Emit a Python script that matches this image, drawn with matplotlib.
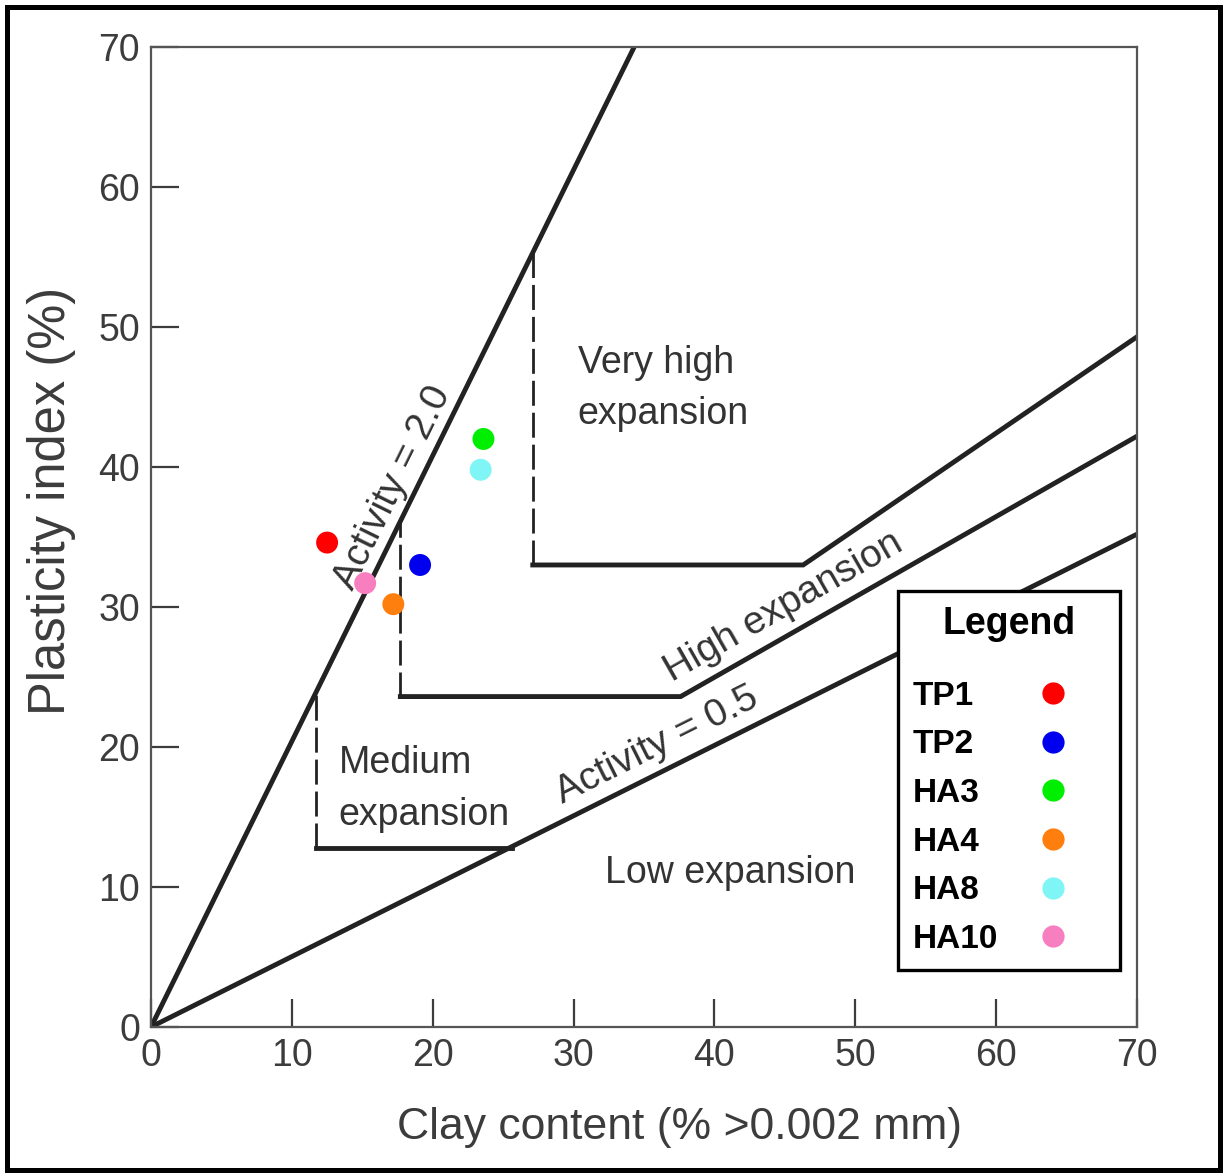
import numpy as np
import matplotlib
matplotlib.use("Agg")
import matplotlib.pyplot as plt
from matplotlib.lines import Line2D
from matplotlib.patches import Rectangle

plt.rcParams['font.family'] = ['Liberation Sans', 'DejaVu Sans']

# ---------------- data ----------------
sample_names = ["TP1", "TP2", "HA3", "HA4", "HA8", "HA10"]
clay_content = [12.5, 19.1, 23.6, 17.2, 23.4, 15.2]
plasticity_index = [34.6, 33.0, 42.0, 30.2, 39.8, 31.7]
sample_colors = ["#ff0000", "#0000ee", "#00ee00", "#ff7f0e", "#7ff5f5", "#f77fbf"]

# zone boundary lines (clay %, PI %)
activity_2_x = [0, 34.3]
activity_2_y = [0, 70]
activity_05_x = [0, 70]
activity_05_y = [0, 35.2]
very_high_x = [27.1, 46.3, 70]
very_high_y = [33.0, 33.0, 49.3]
very_high_dash_x = [27.1, 27.1]
very_high_dash_y = [33.0, 55.4]
high_x = [17.7, 37.6, 70]
high_y = [23.6, 23.6, 42.2]
high_dash_x = [17.7, 17.7]
high_dash_y = [23.6, 36.1]
medium_x = [11.7, 25.6]
medium_y = [12.8, 12.8]
medium_dash_x = [11.7, 11.7]
medium_dash_y = [12.8, 23.9]

x_ticks = [0, 10, 20, 30, 40, 50, 60, 70]
y_ticks = [0, 10, 20, 30, 40, 50, 60, 70]

# ---------------- figure ----------------
fig = plt.figure(figsize=(12.23, 11.75), dpi=100)
ax = fig.add_axes([0.1235, 0.1260, 0.8062, 0.8340])

line_col = "#222222"
lw_main = 3.5
ax.plot(activity_2_x, activity_2_y, color=line_col, lw=lw_main, solid_capstyle='butt')
ax.plot(activity_05_x, activity_05_y, color=line_col, lw=lw_main, solid_capstyle='butt')
ax.plot(very_high_x, very_high_y, color=line_col, lw=lw_main, solid_joinstyle='miter')
ax.plot(high_x, high_y, color=line_col, lw=lw_main, solid_joinstyle='miter')
ax.plot(medium_x, medium_y, color=line_col, lw=lw_main)
dash_style = (0, (9, 2.5))
for dx, dy in [(very_high_dash_x, very_high_dash_y), (high_dash_x, high_dash_y),
               (medium_dash_x, medium_dash_y)]:
    ax.plot(dx, dy, color=line_col, lw=2.0, linestyle=dash_style)

# samples
for n, xv, yv, c in zip(sample_names, clay_content, plasticity_index, sample_colors):
    ax.scatter([xv], [yv], s=250, color=c, edgecolors='none', zorder=5, label=n)

ax.set_xlim(0, 70)
ax.set_ylim(0, 70)
ax.set_xticks(x_ticks)
ax.set_yticks(y_ticks)
ax.tick_params(direction='in', length=20, width=1.6, colors='#3c3c3c',
               labelsize=27, pad=8)
for sp in ax.spines.values():
    sp.set_color('#555555')
    sp.set_linewidth(1.6)

ax.set_xlabel("Clay content (% >0.002 mm)", fontsize=32, color='#3c3c3c', labelpad=24)
ax.xaxis.label.set_x(0.5355)
ax.set_ylabel("Plasticity index (%)", fontsize=36.5, color='#3c3c3c', labelpad=16)
ax.yaxis.label.set_y(0.537)

txt_col = '#333333'
ax.text(30.3, 45.6, "Very high\nexpansion", fontsize=27, color=txt_col,
        ha='left', va='center', linespacing=1.55)
ax.text(13.3, 17.0, "Medium\nexpansion", fontsize=27, color=txt_col,
        ha='left', va='center', linespacing=1.55)
ax.text(32.2, 11.0, "Low expansion", fontsize=27, color=txt_col,
        ha='left', va='center')

def slope_deg(xs, ys):
    return np.degrees(np.arctan2(ys[-1] - ys[-2], xs[-1] - xs[-2]))

ax.text(17.2, 38.5, "Activity = 2.0", fontsize=28, color=txt_col,
        ha='center', va='center', rotation=slope_deg(activity_2_x, activity_2_y),
        transform_rotates_text=True, rotation_mode='anchor')
ax.text(44.9, 30.0, "High expansion", fontsize=28, color=txt_col,
        ha='center', va='center', rotation=slope_deg(high_x, high_y),
        transform_rotates_text=True, rotation_mode='anchor')
ax.text(35.9, 20.1, "Activity = 0.5", fontsize=28, color=txt_col,
        ha='center', va='center', rotation=slope_deg(activity_05_x, activity_05_y),
        transform_rotates_text=True, rotation_mode='anchor')

# legend
handles = [Line2D([], [], marker='o', linestyle='none', markersize=16,
                  markerfacecolor=c, markeredgecolor='none') for c in sample_colors]
leg = ax.legend(handles, sample_names, loc='lower right',
                bbox_to_anchor=(0.9828, 0.0582), borderaxespad=0,
                markerfirst=False, fancybox=False, framealpha=1,
                edgecolor='black', prop={'weight': 'bold', 'size': 24},
                title="Legend", title_fontproperties={'weight': 'bold', 'size': 27},
                handlelength=3.1, handletextpad=0.1, borderpad=0.45,
                labelspacing=0.53)
leg.get_frame().set_linewidth(2.4)
leg._legend_box.sep = 28

# equalise item widths so labels are left aligned and markers aligned
fig.canvas.draw()
renderer = fig.canvas.get_renderer()
widths = [t.get_window_extent(renderer).width for t in leg.get_texts()]
maxw = max(widths)
dpicor = renderer.points_to_pixels(1.0)
column = leg._legend_handle_box.get_children()[0]
for item, w in zip(column.get_children(), widths):
    item.sep = item.sep + (maxw - w) / dpicor

# outer frame
fig.patches.append(Rectangle((0.0061, 0.0043), 0.9915, 0.9897, transform=fig.transFigure,
                             fill=False, edgecolor='black', linewidth=3.6))

fig.savefig("out.png", dpi=100)
